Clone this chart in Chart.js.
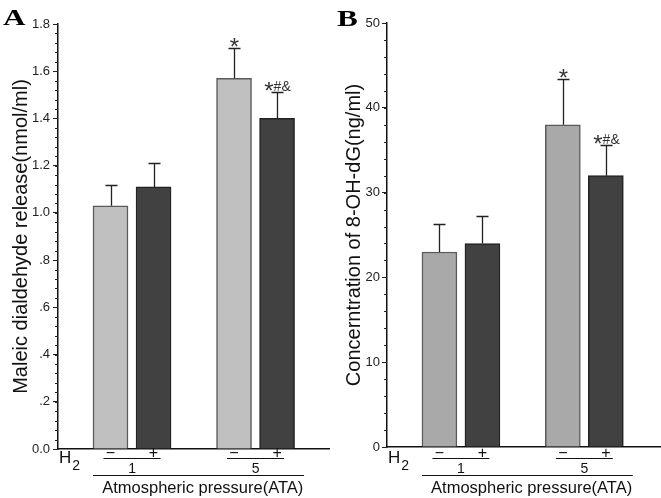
<!DOCTYPE html>
<html>
<head>
<meta charset="utf-8">
<script src="https://cdn.jsdelivr.net/npm/chart.js@4.4.1/dist/chart.umd.min.js"></script>
<style>
  body { margin: 0; background: #fff; }
  #wrap { position: relative; width: 661px; height: 498px; }
  canvas { position: absolute; top: 0; }
</style>
</head>
<body>
<div id="wrap">
  <canvas id="chartA" width="330" height="498" style="left:0"></canvas>
  <canvas id="chartB" width="331" height="498" style="left:330px"></canvas>
</div>
<script>
// groups and H2 treatment
const pressures = ['1', '5'];
const h2Signs = ['−', '+'];

// panel A: malondialdehyde
const mdaValues = [1.03, 1.11, 1.57, 1.40];
const mdaErrors = [0.09, 0.10, 0.13, 0.11];
const mdaMarks = ['', '', '*', '*#&'];
const mdaTicks = ['0.0', '.2', '.4', '.6', '.8', '1.0', '1.2', '1.4', '1.6', '1.8'];

// panel B: 8-OH-dG
const ohdgValues = [23, 24, 38, 32];
const ohdgErrors = [3.3, 3.2, 5.4, 3.6];
const ohdgMarks = ['', '', '*', '*#&'];
const ohdgTicks = ['0', '10', '20', '30', '40', '50'];

const GROUP_STEP = 2.87;
const FONT = '"Liberation Sans", Arial, sans-serif';

// bar i -> x position (group index * step + sign index)
function barX(i) {
  const g = Math.floor(i / h2Signs.length);
  const h = i % h2Signs.length;
  return g * GROUP_STEP + h;
}

function drawMark(ctx, text, cx, bottom) {
  const parts = text.split('').map(ch => {
    ctx.font = ch === '*' ? '24px ' + FONT : '14px ' + FONT;
    const m = ctx.measureText(ch);
    return { ch, font: ctx.font, w: m.width, d: m.actualBoundingBoxDescent };
  });
  const total = parts.reduce((s, p) => s + p.w, 0);
  let x = cx - total / 2;
  ctx.textAlign = 'left';
  ctx.textBaseline = 'alphabetic';
  for (const p of parts) {
    ctx.font = p.font;
    ctx.fillText(p.ch, x, bottom - p.d);
    x += p.w;
  }
}

const figurePlugin = {
  id: 'figure',
  afterDraw(chart, args, o) {
    const ctx = chart.ctx;
    const xs = chart.scales.x;
    const ys = chart.scales.y;
    const left = chart.chartArea.left;
    ctx.save();
    ctx.fillStyle = '#222';
    ctx.strokeStyle = '#222';

    // minor ticks
    ctx.lineWidth = 1;
    for (let v = ys.min; v <= ys.max + 1e-9; v += o.minor) {
      const y = Math.round(ys.getPixelForValue(v)) + 0.5;
      ctx.beginPath();
      ctx.moveTo(left - 3, y);
      ctx.lineTo(left, y);
      ctx.stroke();
    }

    // error bars and significance marks
    const cxs = o.values.map((v, i) => xs.getPixelForValue(barX(i)));
    ctx.lineWidth = 1.3;
    o.values.forEach((v, i) => {
      const cx = Math.round(cxs[i]) + 0.5;
      const y0 = ys.getPixelForValue(v);
      const y1 = Math.round(ys.getPixelForValue(v + o.errors[i])) + 0.5;
      ctx.beginPath();
      ctx.moveTo(cx, y0);
      ctx.lineTo(cx, y1);
      ctx.moveTo(cx - 6, y1);
      ctx.lineTo(cx + 6, y1);
      ctx.stroke();
      if (o.marks[i]) {
        ctx.fillStyle = '#333';
        drawMark(ctx, o.marks[i], cx, y1 - 2);
      }
    });

    // H2 label
    ctx.fillStyle = '#111';
    ctx.strokeStyle = '#111';
    ctx.textBaseline = 'middle';
    ctx.textAlign = 'left';
    ctx.font = '17px ' + FONT;
    ctx.fillText('H', left + 1, 458);
    const hw = ctx.measureText('H').width;
    ctx.font = '14px ' + FONT;
    ctx.fillText('2', left + 2 + hw, 466);

    // sign row, group lines and pressure labels
    ctx.textAlign = 'center';
    ctx.lineWidth = 1;
    pressures.forEach((p, g) => {
      const idx = h2Signs.map((s, h) => g * h2Signs.length + h);
      idx.forEach((i, h) => {
        ctx.font = '16px ' + FONT;
        ctx.fillText(h2Signs[h], cxs[i], 454);
      });
      const a = cxs[idx[0]], b = cxs[idx[idx.length - 1]];
      ctx.beginPath();
      ctx.moveTo(a - 7, 458.5);
      ctx.lineTo(b + 7, 458.5);
      ctx.stroke();
      ctx.font = '14px ' + FONT;
      ctx.fillText(p, (a + b) / 2, 469);
    });
    const first = cxs[0], last = cxs[cxs.length - 1];
    ctx.beginPath();
    ctx.moveTo(first - 17.5, 475.5);
    ctx.lineTo(last + 27, 475.5);
    ctx.stroke();
    ctx.font = '16.5px ' + FONT;
    ctx.fillText('Atmospheric pressure(ATA)', (first + last) / 2 + 9, 488);

    // panel letter
    ctx.save();
    ctx.fillStyle = '#000';
    ctx.translate(o.letterX, o.letterY);
    ctx.scale(1.3, 1);
    ctx.font = 'bold 24px "Liberation Serif", "Times New Roman", serif';
    ctx.textAlign = 'left';
    ctx.textBaseline = 'alphabetic';
    ctx.fillText(o.letter, 0, 0);
    ctx.restore();

    ctx.restore();
  }
};

function makeChart(id, cfg) {
  return new Chart(document.getElementById(id), {
    type: 'bar',
    data: {
      datasets: [{
        data: cfg.values.map((v, i) => ({ x: barX(i), y: v })),
        backgroundColor: cfg.values.map((v, i) => i % 2 ? '#414141' : cfg.light),
        borderColor: cfg.values.map((v, i) => i % 2 ? '#222' : '#5a5a5a'),
        borderWidth: 1.5,
        barThickness: 35
      }]
    },
    options: {
      responsive: false,
      devicePixelRatio: 1,
      animation: false,
      layout: { padding: { top: cfg.top, right: cfg.right, bottom: 0, left: 0 } },
      plugins: {
        legend: { display: false },
        tooltip: { enabled: false },
        figure: {
          values: cfg.values, errors: cfg.errors, marks: cfg.marks, minor: cfg.minor,
          letter: cfg.letter, letterX: cfg.letterX, letterY: cfg.letterY
        }
      },
      scales: {
        x: {
          type: 'linear',
          min: -1.22,
          max: cfg.xMax,
          offset: false,
          grid: { display: false },
          ticks: { display: false },
          border: { display: true, color: '#111', width: 1.5 },
          afterFit: s => { s.height = cfg.xHeight; }
        },
        y: {
          min: 0,
          max: cfg.yMax,
          ticks: {
            stepSize: cfg.step,
            padding: cfg.tickPad,
            color: '#222',
            font: { family: FONT, size: 13 },
            callback: (v, i) => cfg.ticks[i]
          },
          grid: { drawOnChartArea: false, drawTicks: true, tickLength: 5, color: '#222', lineWidth: 1 },
          border: { display: true, color: '#111', width: 1.5 },
          title: {
            display: true,
            text: cfg.title,
            color: '#111',
            font: { family: FONT, size: 20 },
            padding: { top: cfg.titlePad, bottom: 0 }
          },
          afterFit: s => { s.width = cfg.yWidth; }
        }
      }
    },
    plugins: [figurePlugin]
  });
}

makeChart('chartA', {
  values: mdaValues, errors: mdaErrors, marks: mdaMarks, ticks: mdaTicks,
  title: 'Maleic dialdehyde release(nmol/ml)',
  light: '#c0c0c0', yMax: 1.8, step: 0.2, minor: 0.04,
  top: 24, right: 0, xMax: 5.1, xHeight: 49, yWidth: 58, tickPad: 3, titlePad: 9,
  letter: 'A', letterX: 3, letterY: 25
});

makeChart('chartB', {
  values: ohdgValues, errors: ohdgErrors, marks: ohdgMarks, ticks: ohdgTicks,
  title: 'Concerntration of 8-OH-dG(ng/ml)',
  light: '#a9a9a9', yMax: 50, step: 10, minor: 2,
  top: 23, right: 1, xMax: 5.13, xHeight: 51, yWidth: 57, tickPad: 2, titlePad: 12,
  letter: 'B', letterX: 7, letterY: 26
});
</script>
</body>
</html>
